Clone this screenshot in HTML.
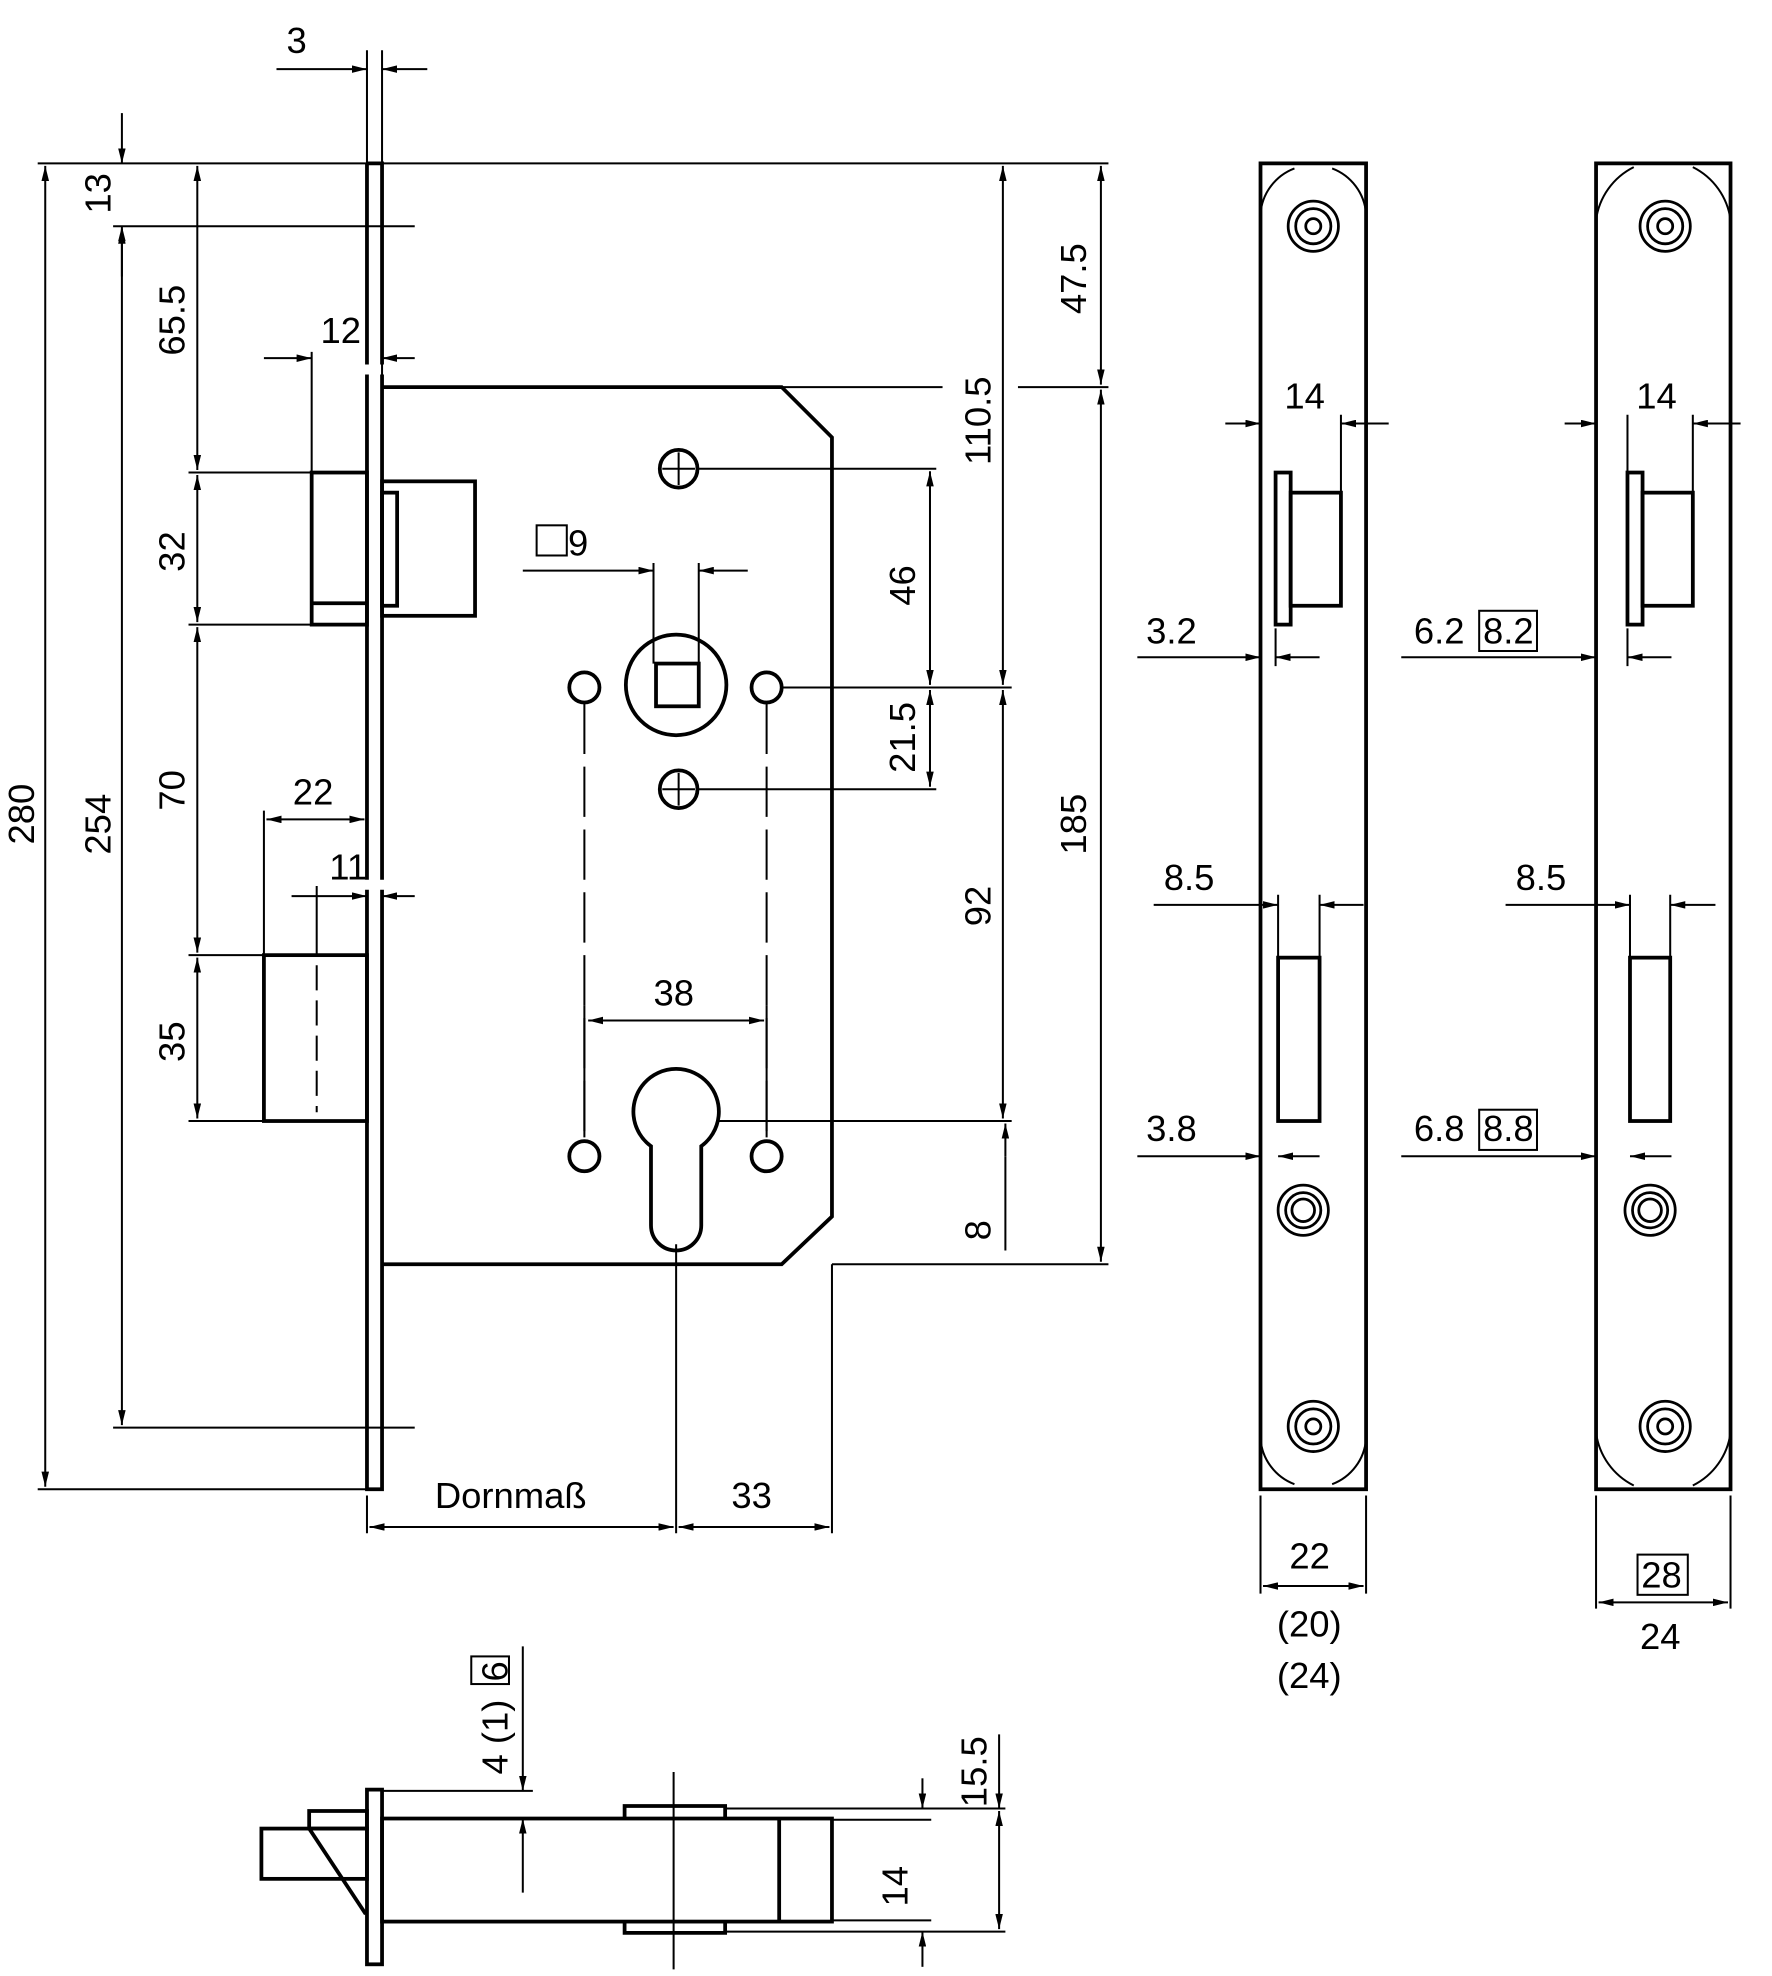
<!DOCTYPE html>
<html><head><meta charset="utf-8"><style>
html,body{margin:0;padding:0;background:#fff}
svg{display:block}
text{font-family:"Liberation Sans","DejaVu Sans",sans-serif;font-size:29px;fill:#000}
</style></head><body>
<svg width="1772" height="1976" viewBox="0 0 1410 1572.3" preserveAspectRatio="none" xmlns="http://www.w3.org/2000/svg">
<defs>
<marker id="a" viewBox="0 0 12 6" refX="12" refY="3" markerWidth="12" markerHeight="6" orient="auto-start-reverse" markerUnits="userSpaceOnUse"><path d="M0,0 L12,3 L0,6z" fill="#000"/></marker>
</defs>
<g fill="none" stroke="#000" stroke-width="3">
<path d="M292,130 H304 V290 M304,298 V700 M304,708 V1185 H292 V708 M292,700 V298 M292,290 V130"/>
<path d="M304,308 H622 L662,348 V968 L622,1006 H304"/>
<rect x="248" y="376" width="44" height="121"/>
<line x1="248" y1="480" x2="292" y2="480"/>
<rect x="304" y="383" width="74" height="107"/>
<rect x="304" y="392" width="12" height="90"/>
<rect x="210" y="760" width="82" height="132"/>
<circle cx="538" cy="545" r="40"/>
<rect x="522" y="528" width="34" height="34"/>
<circle cx="540" cy="373" r="15"/><circle cx="540" cy="628" r="15"/>
<circle cx="465" cy="547" r="12"/><circle cx="610" cy="547" r="12"/>
<circle cx="465" cy="920" r="12"/><circle cx="610" cy="920" r="12"/>
<path d="M518,912 A34,34 0 1 1 558,912 V975 A20,20 0 0 1 518,975 Z"/>
<rect x="1003" y="130" width="84" height="1055"/>
<rect x="1015" y="376" width="12" height="121"/>
<rect x="1027" y="392" width="40" height="90"/>
<rect x="1017" y="762" width="33" height="130"/>
<rect x="1270" y="130" width="107" height="1055"/>
<rect x="1295" y="376" width="12" height="121"/>
<rect x="1307" y="392" width="40" height="90"/>
<rect x="1297" y="762" width="32" height="130"/>
<!-- bottom view -->
<rect x="292" y="1424" width="12" height="139"/>
<rect x="304" y="1447" width="358" height="82"/>
<line x1="620" y1="1447" x2="620" y2="1529"/>
<rect x="208" y="1455" width="84" height="40"/>
<rect x="246" y="1441" width="46" height="14"/>
<line x1="246" y1="1455" x2="291" y2="1523"/>
<path d="M497,1447 V1437 H577 V1447"/>
<path d="M497,1529 V1538 H577 V1529"/>
</g>
<g fill="none" stroke="#000" stroke-width="1.6">
<path d="M1003,170 A42,42 0 0 1 1030,134 M1087,170 A42,42 0 0 0 1060,134 M1003,1145 A42,42 0 0 0 1030,1181 M1087,1145 A42,42 0 0 1 1060,1181"/>
<path d="M1270,175 A55,55 0 0 1 1300,133 M1377,175 A55,55 0 0 0 1347,133 M1270,1140 A55,55 0 0 0 1300,1182 M1377,1140 A55,55 0 0 1 1347,1182"/>
<g stroke-width="2.2">
<circle cx="1045" cy="180" r="20"/><circle cx="1045" cy="180" r="14"/><circle cx="1045" cy="180" r="6"/>
<circle cx="1037" cy="963" r="20"/><circle cx="1037" cy="963" r="14"/><circle cx="1037" cy="963" r="9"/>
<circle cx="1045" cy="1135" r="20"/><circle cx="1045" cy="1135" r="14"/><circle cx="1045" cy="1135" r="6"/>
<circle cx="1325" cy="180" r="20"/><circle cx="1325" cy="180" r="14"/><circle cx="1325" cy="180" r="6"/>
<circle cx="1313" cy="963" r="20"/><circle cx="1313" cy="963" r="14"/><circle cx="1313" cy="963" r="9"/>
<circle cx="1325" cy="1135" r="20"/><circle cx="1325" cy="1135" r="14"/><circle cx="1325" cy="1135" r="6"/>
</g>
<path d="M540,360 V386 M527,373 H553 M540,615 V641 M527,628 H553"/>
<path d="M252,768 V885" stroke-dasharray="20,8"/>
<path d="M465,560 V905 M610,560 V905" stroke-dasharray="40,10"/>
<path d="M292,130 V40 M304,130 V40 M30,130 H330 M90,180 H330 M90,1136 H330 M30,1185 H292 M150,376 H248 M150,497 H248 M150,760 H210 M150,892 H210 M248,280 V376 M304,280 V300 M210,645 V760 M252,705 V760 M622,308 H750 M810,308 H882 M304,130 H882 M662,1006 H882 M555,373 H745 M555,628 H745 M622,547 H805 M570,892 H805 M520,448 V528 M556,448 V528 M465,800 V905 M610,800 V905 M292,1190 V1220 M538,990 V1220 M662,1006 V1220"/>
<path d="M1003,330 V376 M1067,330 V392 M1015,500 V530 M1017,712 V762 M1050,712 V762 M1003,1190 V1268 M1087,1190 V1268 M1295,330 V376 M1347,330 V392 M1295,500 V530 M1297,712 V762 M1329,712 V762 M1270,1190 V1280 M1377,1190 V1280"/>
<!-- bottom view ext lines -->
<path d="M304,1425 H424 M577,1439 H800 M662,1448 H741 M662,1528 H741 M577,1537 H800 M536,1410 V1567"/>
<g marker-start="url(#a)" marker-end="url(#a)">
<path d="M36,132 V1183"/>
<path d="M97,182 V1134"/>
<path d="M157,132 V374"/><path d="M157,378 V495"/><path d="M157,499 V758"/><path d="M157,762 V890"/>
<path d="M212,652 H290"/>
<path d="M468,812 H608"/>
<path d="M294,1215 H536"/><path d="M540,1215 H660"/>
<path d="M740,375 V545"/><path d="M740,549 V626"/>
<path d="M798,132 V545"/><path d="M798,549 V890"/>
<path d="M876,132 V306"/><path d="M876,310 V1004"/>
<path d="M795,1441 V1535"/>
<path d="M1005,1262 H1085"/><path d="M1272,1275 H1375"/>
</g>
<g marker-end="url(#a)">
<path d="M220,55 H292"/><path d="M340,55 H304"/>
<path d="M97,90 V130"/><path d="M97,220 V180"/>
<path d="M210,285 H248"/><path d="M330,285 H304"/>
<path d="M416,454 H520"/><path d="M595,454 H556"/>
<path d="M232,713 H292"/><path d="M330,713 H304"/>
<path d="M800,920 V894"/>
<path d="M975,337 H1003"/><path d="M1105,337 H1067"/>
<path d="M905,523 H1003"/><path d="M1050,523 H1015"/>
<path d="M918,720 H1017"/><path d="M1085,720 H1050"/>
<path d="M905,920 H1003"/><path d="M1050,920 H1017"/>
<path d="M1245,337 H1270"/><path d="M1385,337 H1347"/>
<path d="M1115,523 H1270"/><path d="M1330,523 H1295"/>
<path d="M1198,720 H1297"/><path d="M1365,720 H1329"/>
<path d="M1115,920 H1270"/><path d="M1330,920 H1297"/>
<path d="M416,1310 V1425"/><path d="M416,1506 V1447"/>
<path d="M734,1415 V1439"/><path d="M734,1565 V1537"/>
<path d="M795,1380 V1439"/>
</g>
<path d="M800,920 V995"/>
<rect x="427" y="418" width="24" height="24"/>
<rect x="375" y="1318" width="30" height="22"/>
<rect x="1177" y="486" width="46" height="32"/>
<rect x="1177" y="883" width="46" height="32"/>
<rect x="1303" y="1237" width="40" height="32"/>
</g>
<g>
<text x="228" y="42">3</text>
<text x="452" y="442">9</text>
<text x="255" y="273">12</text>
<text x="233" y="640">22</text>
<text x="262" y="700">11</text>
<text x="520" y="800">38</text>
<text x="346" y="1200">Dornmaß</text>
<text x="582" y="1200">33</text>
<text x="1022" y="325">14</text>
<text x="1302" y="325">14</text>
<text x="912" y="512">3.2</text>
<text x="1125" y="512">6.2</text><text x="1180" y="512">8.2</text>
<text x="926" y="708">8.5</text>
<text x="1206" y="708">8.5</text>
<text x="912" y="908">3.8</text>
<text x="1125" y="908">6.8</text><text x="1180" y="908">8.8</text>
<text x="1026" y="1248">22</text>
<text x="1016" y="1302">(20)</text>
<text x="1016" y="1343">(24)</text>
<text x="1306" y="1263">28</text>
<text x="1305" y="1312">24</text>
<g transform="rotate(-90)">
<text x="-672" y="27">280</text>
<text x="-680" y="88">254</text>
<text x="-170" y="88">13</text>
<text x="-283" y="147">65.5</text>
<text x="-455" y="147">32</text>
<text x="-645" y="147">70</text>
<text x="-845" y="147">35</text>
<text x="-482" y="728">46</text>
<text x="-615" y="728">21.5</text>
<text x="-370" y="788">110.5</text>
<text x="-737" y="788">92</text>
<text x="-987" y="788">8</text>
<text x="-250" y="864">47.5</text>
<text x="-680" y="864">185</text>
<text x="-1412" y="404">4 (1)</text><text x="-1338" y="404">6</text>
<text x="-1438" y="785">15.5</text>
<text x="-1517" y="722">14</text>
</g>
</g>
</svg>
</body></html>
